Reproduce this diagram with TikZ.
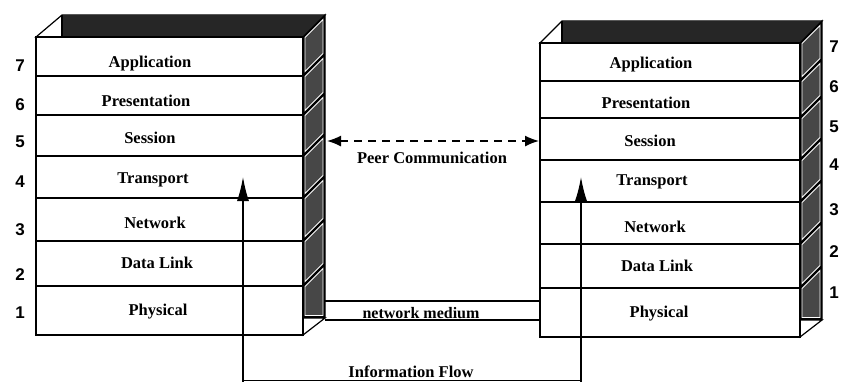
\documentclass[tikz,border=0pt]{standalone}
\usepackage{fontspec}
\setmainfont{Liberation Serif}
\newfontfamily\numfont{Liberation Sans}
\usetikzlibrary{arrows.meta}
\begin{document}
\begin{tikzpicture}[x=1pt,y=-1pt,
  layerbox/.style={draw, line width=1.3pt, fill=white, anchor=north west, inner sep=0pt, outer sep=0pt},
  lbl/.style={font=\bfseries\fontsize{16.5}{18}\selectfont, anchor=base, inner sep=0pt},
  num/.style={font=\numfont\bfseries\fontsize{17}{20}\selectfont, anchor=base, inner sep=0pt},
  flow/.style={line width=1.3pt, -{Latex[length=24pt,width=12pt]}},
  peer/.style={line width=1.5pt, dash pattern=on 8pt off 6pt, {Latex[length=14pt,width=11pt]}-{Latex[length=14pt,width=11pt]}},
  edge/.style={draw=black, line width=1.2pt},
  panel/.style={fill=black!72, draw=white, line width=0.9pt},
  topband/.style={fill=black!85},
  medium/.style={line width=1.2pt},
]
\useasboundingbox (0,0) rectangle (841,381);

% ---------------- left stack ----------------
% top face
\draw[edge, fill=white] (36,37) -- (62,15) -- (325,15) -- (303,37) -- cycle;
\fill[topband] (62,15) -- (325,15) -- (303,37) -- (62,37) -- cycle;
\draw[edge] (62,15) -- (62,37);
% side face
\fill[black] (303,37) -- (325,15) -- (325,318) -- (303,318) -- cycle;
\foreach \t/\b in {37/76,76/115,115/156,156/198,198/241,241/286}
  \draw[panel] (305,\t+0.5) -- (323,\t-17.5) -- (323,\b-22.5) -- (305,\b-4.5) -- cycle;
\draw[panel] (305,286.5) -- (323,268.5) -- (323,315.5) -- (305,315.5) -- cycle;
\draw[edge, fill=white] (303,318) -- (325,318) -- (303,335) -- cycle;
\draw[edge] (303,37) -- (325,15) -- (325,318);
% layers
\foreach \i/\t/\b in {7/37/76,6/76/115,5/115/156,4/156/198,3/198/241,2/241/286,1/286/335}
  \node[layerbox, minimum width=267pt, minimum height={\b-\t}] (LL\i) at (36,\t) {};
\node[lbl] (LT7) at (150,67) {Application};
\node[lbl] (LT6) at (146,106) {Presentation};
\node[lbl] (LT5) at (150,143) {Session};
\node[lbl] (LT4) at (153,183) {Transport};
\node[lbl] (LT3) at (155,228) {Network};
\node[lbl] (LT2) at (157,268) {Data Link};
\node[lbl] (LT1) at (158,315) {Physical};
\foreach \i/\y in {7/71,6/110,5/147,4/187,3/235,2/280,1/318}
  \node[num] (LN\i) at (20,\y) {\i};

% ---------------- right stack ----------------
\draw[edge, fill=white] (540,43) -- (562,21) -- (822,21) -- (800,43) -- cycle;
\fill[topband] (562,21) -- (822,21) -- (800,43) -- (562,43) -- cycle;
\draw[edge] (562,21) -- (562,43);
\fill[black] (800,43) -- (822,21) -- (822,320) -- (800,320) -- cycle;
\foreach \t/\b in {43/81,81/118,118/160,160/202,202/244,244/288}
  \draw[panel] (802,\t+0.5) -- (820,\t-17.5) -- (820,\b-22.5) -- (802,\b-4.5) -- cycle;
\draw[panel] (802,288.5) -- (820,270.5) -- (820,317.5) -- (802,317.5) -- cycle;
\draw[edge, fill=white] (800,320) -- (822,320) -- (800,337) -- cycle;
\draw[edge] (800,43) -- (822,21) -- (822,320);
\foreach \i/\t/\b in {7/43/81,6/81/118,5/118/160,4/160/202,3/202/244,2/244/288,1/288/337}
  \node[layerbox, minimum width=260pt, minimum height={\b-\t}] (RL\i) at (540,\t) {};
\node[lbl] (RT7) at (651,68) {Application};
\node[lbl] (RT6) at (646,108) {Presentation};
\node[lbl] (RT5) at (650,146) {Session};
\node[lbl] (RT4) at (652,185) {Transport};
\node[lbl] (RT3) at (655,232) {Network};
\node[lbl] (RT2) at (657,271) {Data Link};
\node[lbl] (RT1) at (659,317) {Physical};
\foreach \i/\y in {7/52,6/92,5/132,4/170,3/215,2/257,1/298}
  \node[num] (RN\i) at (834,\y) {\i};

% ---------------- connectors ----------------
\coordinate (pl) at (327,141);
\coordinate (pr) at (539,141);
\draw[peer] (pl) -- (pr);
\node[lbl] (peertxt) at (432,163) {Peer Communication};

\coordinate (m1a) at (325,301);
\coordinate (m1b) at (540,301);
\coordinate (m2a) at (325,320);
\coordinate (m2b) at (540,320);
\draw[medium] (m1a) -- (m1b);
\draw[medium] (m2a) -- (m2b);
\node[lbl, font=\bfseries\fontsize{16}{18}\selectfont] (medtxt) at (421,318) {network medium};

\coordinate (lfoot) at (243,384);
\coordinate (ltip) at (243,177);
\coordinate (rfoot) at (581,384);
\coordinate (rtip) at (581,177);
\draw[flow] (lfoot) -- (ltip);
\draw[flow] (rfoot) -- (rtip);
\coordinate (lb) at (243,380.5);
\coordinate (rb) at (581,380.5);
\draw[line width=1pt] (lb) -- (rb);
\node[lbl] (flowtxt) at (411,377) {Information Flow};
\end{tikzpicture}
\end{document}
